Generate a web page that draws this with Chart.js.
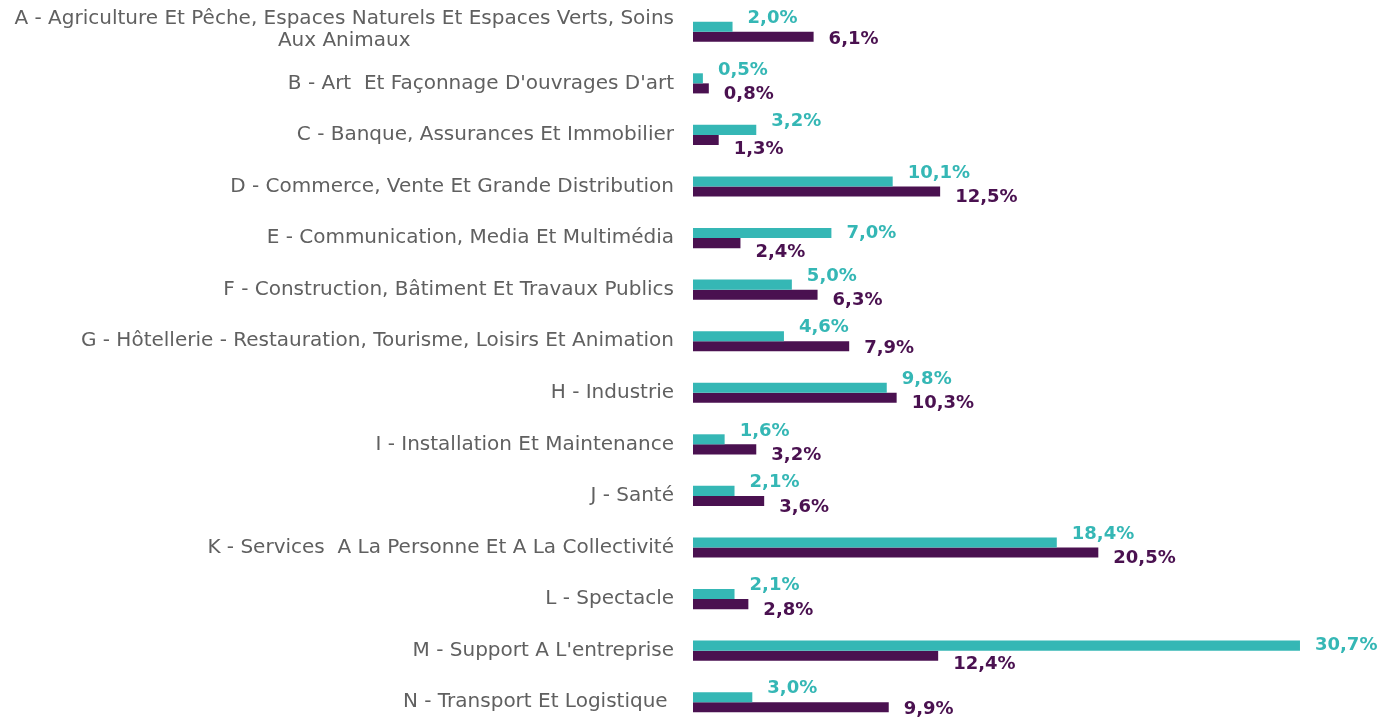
<!DOCTYPE html>
<html>
<head>
<meta charset="utf-8">
<script src="https://cdn.jsdelivr.net/npm/chart.js@4/dist/chart.umd.min.js"></script>
<style>
html,body{margin:0;padding:0;background:#fff;overflow:hidden;}
#wrap{position:relative;width:1394px;height:728px;}
</style>
</head>
<body>
<div id="wrap"><canvas id="c"></canvas></div>
<script>
const categories = [
  ["A - Agriculture Et Pêche, Espaces Naturels Et Espaces Verts, Soins", "Aux Animaux"],
  "B - Art  Et Façonnage D'ouvrages D'art",
  "C - Banque, Assurances Et Immobilier",
  "D - Commerce, Vente Et Grande Distribution",
  "E - Communication, Media Et Multimédia",
  "F - Construction, Bâtiment Et Travaux Publics",
  "G - Hôtellerie - Restauration, Tourisme, Loisirs Et Animation",
  "H - Industrie",
  "I - Installation Et Maintenance",
  "J - Santé",
  "K - Services  A La Personne Et A La Collectivité",
  "L - Spectacle",
  "M - Support A L'entreprise",
  "N - Transport Et Logistique "
];
const seriesTeal = [2.0, 0.5, 3.2, 10.1, 7.0, 5.0, 4.6, 9.8, 1.6, 2.1, 18.4, 2.1, 30.7, 3.0];
const seriesPurple = [6.1, 0.8, 1.3, 12.5, 2.4, 6.3, 7.9, 10.3, 3.2, 3.6, 20.5, 2.8, 12.4, 9.9];

const TEAL = '#35b7b5';
const PURPLE = '#4a1150';
const TICK_COLOR = '#606060';
const TICK_FONT = '20px "DejaVu Sans"';
const LABEL_FONT = 'bold 18px "DejaVu Sans"';
const TICK_PAD = 19;

function fmt(v){ return v.toFixed(1).replace('.', ',') + '%'; }

const labelPlugin = {
  id: 'valueLabels',
  afterDatasetsDraw(chart){
    const ctx = chart.ctx;
    const m0 = chart.getDatasetMeta(0), m1 = chart.getDatasetMeta(1);
    ctx.save();
    ctx.font = LABEL_FONT;
    ctx.textAlign = 'left';
    ctx.textBaseline = 'middle';
    const gap = 15;
    for (let i = 0; i < seriesTeal.length; i++){
      const a = m0.data[i], b = m1.data[i];
      const ta = fmt(seriesTeal[i]), tb = fmt(seriesPurple[i]);
      const xa = a.x + gap, xb = b.x + gap;
      const wa = ctx.measureText(ta).width, wb = ctx.measureText(tb).width;
      const overlap = xa < xb + wb && xb < xa + wa;
      const tealShorter = seriesTeal[i] < seriesPurple[i];
      let dyA = (tealShorter || overlap) ? -8.5 : 0;
      let dyB = (!tealShorter) ? 9 : (overlap ? 6 : 2.5);
      ctx.fillStyle = TEAL;
      ctx.fillText(ta, xa, a.y + dyA);
      ctx.fillStyle = PURPLE;
      ctx.fillText(tb, xb, b.y + dyB);
    }
    // multi-line category labels: lines centred on each other, block right-aligned
    const y = chart.scales.y;
    ctx.font = TICK_FONT;
    ctx.fillStyle = TICK_COLOR;
    ctx.textAlign = 'center';
    const right = y.right - TICK_PAD;
    categories.forEach((c, i) => {
      if (!Array.isArray(c)) return;
      const w = Math.max(...c.map(s => ctx.measureText(s).width));
      const cx = right - w / 2;
      const cy = y.getPixelForTick(i) - 2;
      const lh = 22;
      c.forEach((s, k) => {
        ctx.fillText(s, cx, cy + (k - (c.length - 1) / 2) * lh);
      });
    });
    ctx.restore();
  }
};

new Chart(document.getElementById('c'), {
  type: 'bar',
  data: {
    labels: categories,
    datasets: [
      { data: seriesTeal, backgroundColor: TEAL, categoryPercentage: 0.39, barPercentage: 1.0 },
      { data: seriesPurple, backgroundColor: PURPLE, categoryPercentage: 0.39, barPercentage: 1.0 }
    ]
  },
  options: {
    indexAxis: 'y',
    responsive: true,
    maintainAspectRatio: false,
    animation: false,
    layout: { padding: { top: 6, right: 9, left: 0, bottom: 0 } },
    plugins: { legend: { display: false }, tooltip: { enabled: false } },
    scales: {
      x: { display: false, min: 0, max: 35 },
      y: {
        grid: { display: false, drawTicks: false },
        border: { display: false },
        ticks: {
          color: TICK_COLOR,
          padding: TICK_PAD,
          font: { family: '"DejaVu Sans"', size: 20, lineHeight: 1.1 },
          autoSkip: false,
          callback(value, index){
            const c = categories[index];
            return Array.isArray(c) ? '' : c;
          }
        },
        afterFit(scale){
          scale.width = 693;
          scale.paddingTop = 0;
          scale.paddingBottom = 0;
        }
      }
    }
  },
  plugins: [labelPlugin]
});
</script>
</body>
</html>
